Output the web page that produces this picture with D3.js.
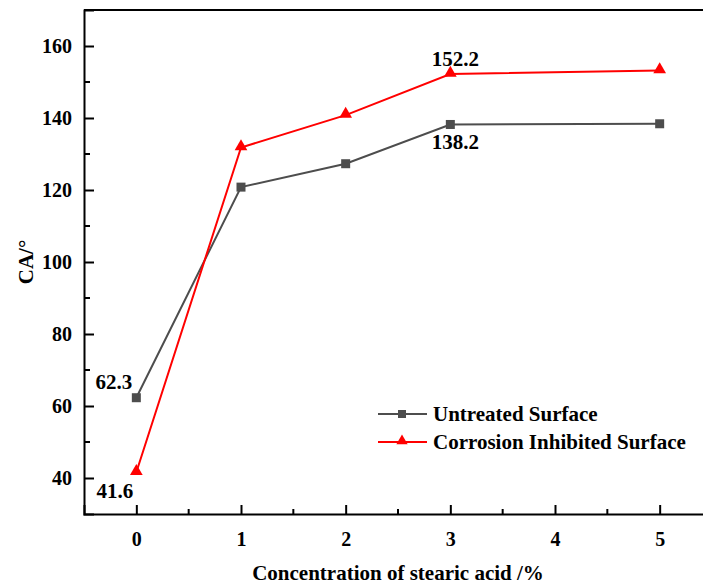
<!DOCTYPE html>
<html><head><meta charset="utf-8">
<script src="https://cdn.jsdelivr.net/npm/d3@7"></script>
<style>body{margin:0;background:#fff;}svg text{font-family:"Liberation Serif","Times New Roman","DejaVu Serif",serif !important;font-weight:bold;fill:#000;}</style>
</head><body>
<script>
const concentrations = [0, 1, 2, 3, 5];
const untreated = [62.3, 120.8, 127.3, 138.2, 138.4];
const inhibited = [41.6, 131.8, 140.8, 152.2, 153.2];
const seriesNames = ["Untreated Surface", "Corrosion Inhibited Surface"];
const seriesColors = ["#4d4d4d", "#ff0000"];
const xTicks = [0, 1, 2, 3, 4, 5];
const yTicks = [40, 60, 80, 100, 120, 140, 160];
const annotations = [
  {x: 0, y: 62.3, text: "62.3", pos: "left-above"},
  {x: 0, y: 41.6, text: "41.6", pos: "left-below"},
  {x: 3, y: 152.2, text: "152.2", pos: "above"},
  {x: 3, y: 138.2, text: "138.2", pos: "below"}
];

const W = 703, H = 584;
const m = {left: 84, top: 10, bottom: 514, right: 712};
const svg = d3.select("body").append("svg").attr("width", W).attr("height", H);
const x = d3.scaleLinear().domain([-0.5, 5.5]).range([m.left, m.right]);
const y = d3.scaleLinear().domain([30, 170]).range([m.bottom, m.top]);

// frame top
svg.append("line").attr("x1", m.left).attr("x2", m.right).attr("y1", m.top).attr("y2", m.top)
  .attr("stroke", "#000").attr("stroke-width", 2);

// x axis
const xAxis = d3.axisBottom(x).tickValues(xTicks).tickSize(-9).tickPadding(18).tickFormat(d3.format("d"));
const gx = svg.append("g").attr("transform", `translate(0,${m.bottom})`).call(xAxis);
gx.select(".domain").attr("stroke-width", 2);
gx.selectAll(".tick line").attr("stroke-width", 2);
gx.selectAll("text").attr("font-size", 20);
const xMinor = d3.range(-0.5, 5.51, 1).filter(v => v > -0.5);
svg.append("g").selectAll("line").data(xMinor).join("line")
  .attr("x1", d => x(d)).attr("x2", d => x(d)).attr("y1", m.bottom).attr("y2", m.bottom - 5)
  .attr("stroke", "#000").attr("stroke-width", 2);

// y axis
const yAxis = d3.axisLeft(y).tickValues(yTicks).tickSize(-10).tickPadding(12);
const gy = svg.append("g").attr("transform", `translate(${m.left},0)`).call(yAxis);
gy.select(".domain").attr("stroke-width", 2);
gy.selectAll(".tick line").attr("stroke-width", 2);
gy.selectAll("text").attr("font-size", 20);
const yMinor = d3.range(50, 170, 20);
svg.append("g").selectAll("line").data(yMinor).join("line")
  .attr("x1", m.left).attr("x2", m.left + 6).attr("y1", d => y(d)).attr("y2", d => y(d))
  .attr("stroke", "#000").attr("stroke-width", 2);

// axis titles
svg.append("text").attr("x", (m.left + m.right) / 2).attr("y", 580).attr("text-anchor", "middle")
  .attr("font-size", 21).text("Concentration of stearic acid /%");
svg.append("text").attr("transform", `translate(33,${(m.top + m.bottom) / 2}) rotate(-90)`)
  .attr("text-anchor", "middle").attr("font-size", 21).text("CA/°");

// series
const line = d3.line().x((d, i) => x(concentrations[i])).y(d => y(d));
const tri = d3.symbol().type(d3.symbolTriangle).size(70);
function drawSeries(vals, color, marker) {
  svg.append("path").datum(vals).attr("d", line).attr("fill", "none").attr("stroke", color).attr("stroke-width", 2);
  const g = svg.append("g");
  vals.forEach((v, i) => {
    if (marker === "square") {
      g.append("rect").attr("x", x(concentrations[i]) - 4.5).attr("y", y(v) - 4.5).attr("width", 9).attr("height", 9).attr("fill", color);
    } else {
      g.append("path").attr("d", tri()).attr("transform", `translate(${x(concentrations[i])},${y(v) - 1})`).attr("fill", color);
    }
  });
}
drawSeries(untreated, seriesColors[0], "square");
drawSeries(inhibited, seriesColors[1], "triangle");

// annotations
annotations.forEach(a => {
  let tx = x(a.x), ty = y(a.y), anchor = "middle";
  if (a.pos === "left-above") { tx = x(a.x) - 4; ty = y(a.y) - 9; anchor = "end"; }
  if (a.pos === "left-below") { tx = x(a.x) - 3; ty = y(a.y) + 26; anchor = "end"; }
  if (a.pos === "above") { tx = x(a.x) + 5; ty = y(a.y) - 8; }
  if (a.pos === "below") { tx = x(a.x) + 5; ty = y(a.y) + 25; }
  svg.append("text").attr("x", tx).attr("y", ty).attr("text-anchor", anchor).attr("font-size", 21).text(a.text);
});

// legend
const lg = svg.append("g");
seriesNames.forEach((n, i) => {
  const ly = 414 + i * 28;
  lg.append("line").attr("x1", 378).attr("x2", 427).attr("y1", ly).attr("y2", ly).attr("stroke", seriesColors[i]).attr("stroke-width", 2);
  if (i === 0) lg.append("rect").attr("x", 398).attr("y", ly - 4).attr("width", 8).attr("height", 8).attr("fill", seriesColors[i]);
  else lg.append("path").attr("d", d3.symbol().type(d3.symbolTriangle).size(55)()).attr("transform", `translate(402,${ly - 1})`).attr("fill", seriesColors[i]);
  lg.append("text").attr("x", 433).attr("y", ly + 7).attr("font-size", 21).text(n);
});
</script>
</body></html>
